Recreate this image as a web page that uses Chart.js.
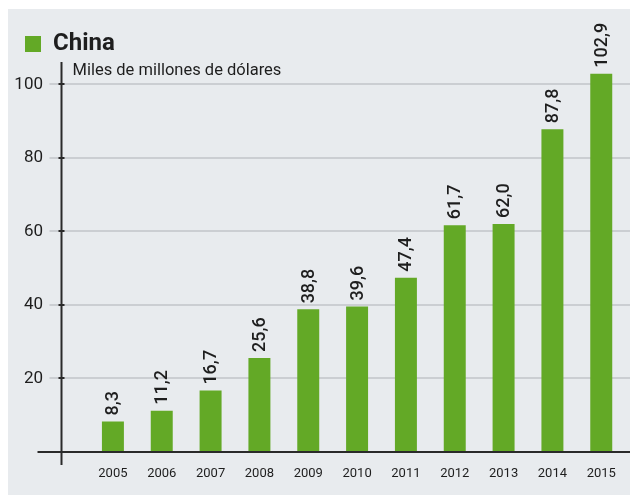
<!DOCTYPE html>
<html>
<head>
<meta charset="utf-8">
<script src="https://cdn.jsdelivr.net/npm/chart.js@4"></script>
<style>
  html, body { margin: 0; padding: 0; background: #fff; }
  #wrap { width: 630px; height: 495px; }
</style>
</head>
<body>
<div id="wrap"><canvas id="barChart"></canvas></div>
<script>
const years = ["2005", "2006", "2007", "2008", "2009", "2010", "2011", "2012", "2013", "2014", "2015"];
const chinaValues = [8.3, 11.2, 16.7, 25.6, 38.8, 39.6, 47.4, 61.7, 62.0, 87.8, 102.9];
const yTicks = [20, 40, 60, 80, 100];
const unitLabel = "Miles de millones de dólares";

const GREEN = "#63a926";
const INK = "#1e1e1e";
const FONT = "Roboto, 'Liberation Sans', sans-serif";

// panel, grid, axis lines, unit text and bar labels
const decor = {
    id: 'decor',
    beforeDraw(chart) {
        const ctx = chart.ctx;
        ctx.save();
        ctx.fillStyle = "#e8ebee";
        ctx.fillRect(8, 9, chart.width - 8, chart.height - 9);
        ctx.restore();
    },
    beforeDatasetsDraw(chart) {
        const ctx = chart.ctx;
        const y = chart.scales.y;
        const a = chart.chartArea;
        const axisX = a.left - 27;
        ctx.save();
        ctx.strokeStyle = "#cbced2";
        ctx.lineWidth = 2;
        yTicks.forEach(v => {
            const py = Math.round(y.getPixelForValue(v));
            ctx.beginPath();
            ctx.moveTo(axisX - 12, py);
            ctx.lineTo(chart.width, py);
            ctx.stroke();
        });
        ctx.restore();
    },
    afterDatasetsDraw(chart) {
        const ctx = chart.ctx;
        const y = chart.scales.y;
        const a = chart.chartArea;
        const axisX = a.left - 27;
        const zero = Math.round(y.getPixelForValue(0));
        ctx.save();
        ctx.strokeStyle = "#2a2a2a";
        ctx.lineWidth = 2;
        // baseline
        ctx.beginPath();
        ctx.moveTo(axisX - 24, zero);
        ctx.lineTo(chart.width, zero);
        ctx.stroke();
        // vertical axis
        ctx.beginPath();
        ctx.moveTo(axisX, 62);
        ctx.lineTo(axisX, zero + 13);
        ctx.stroke();
        yTicks.forEach(v => {
            const py = Math.round(y.getPixelForValue(v));
            ctx.beginPath();
            ctx.moveTo(axisX - 3, py);
            ctx.lineTo(axisX + 3, py);
            ctx.stroke();
        });

        // unit label
        ctx.fillStyle = INK;
        ctx.font = "16.5px " + FONT;
        ctx.textAlign = "left";
        ctx.textBaseline = "alphabetic";
        ctx.fillText(unitLabel, axisX + 11, 75);

        // value labels, rotated
        ctx.font = "500 18px " + FONT;
        ctx.textBaseline = "middle";
        chart.getDatasetMeta(0).data.forEach((bar, i) => {
            ctx.save();
            ctx.translate(bar.x + 1, bar.y - 6);
            ctx.rotate(-Math.PI / 2);
            ctx.fillText(chinaValues[i].toFixed(1).replace('.', ','), 0, 0);
            ctx.restore();
        });
        ctx.restore();
    }
};

new Chart(document.getElementById("barChart"), {
    type: 'bar',
    data: {
        labels: years,
        datasets: [{
            label: "China",
            data: chinaValues,
            backgroundColor: GREEN,
            borderWidth: 0,
            barPercentage: 0.45,
            categoryPercentage: 1.0
        }]
    },
    options: {
        responsive: true,
        maintainAspectRatio: false,
        animation: false,
        layout: { padding: { left: 15, right: 3, top: 22, bottom: 0 } },
        plugins: {
            legend: {
                display: true,
                align: 'start',
                labels: {
                    boxWidth: 16,
                    boxHeight: 16,
                    padding: 10,
                    color: INK,
                    font: { family: FONT, size: 24, weight: 'bold' }
                }
            },
            tooltip: { enabled: false }
        },
        scales: {
            x: {
                grid: { display: false, drawTicks: false },
                border: { display: false },
                afterFit(scale) { scale.height = 43; },
                ticks: { color: INK, padding: 14, font: { family: FONT, size: 13 } }
            },
            y: {
                min: 0,
                max: 105,
                grid: { display: false, drawTicks: false },
                border: { display: false },
                afterFit(scale) {
                    scale.width = 73.5;
                    scale.paddingTop = 0;
                    scale.paddingBottom = 0;
                },
                afterBuildTicks(scale) {
                    scale.ticks = [0].concat(yTicks).map(v => ({ value: v }));
                },
                ticks: {
                    color: INK,
                    padding: 45.5,
                    font: { family: FONT, size: 17 },
                    callback: v => v === 0 ? '' : v
                }
            }
        }
    },
    plugins: [decor]
});
</script>
</body>
</html>
